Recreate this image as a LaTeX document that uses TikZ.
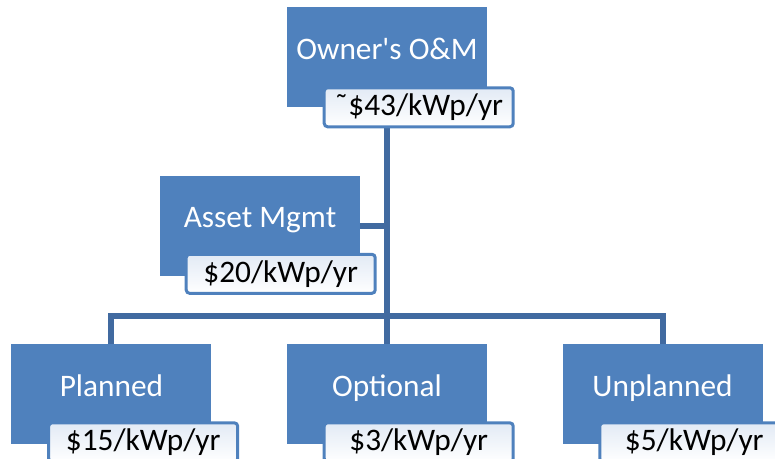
\documentclass[tikz,border=0pt]{standalone}
\usepackage{fontspec}
\setmainfont{Carlito}
\usepackage{tikz}
\usetikzlibrary{positioning,calc}
\definecolor{boxblue}{RGB}{79,129,189}
\definecolor{lineblue}{RGB}{65,106,160}
\definecolor{tagtop}{RGB}{226,234,245}

\begin{document}
\begin{tikzpicture}[
    node distance=51pt,
    box/.style={fill=boxblue,minimum width=150pt,inner sep=0pt,text height=39pt,
                text depth=36pt,text=white,font=\fontsize{23.5}{28}\selectfont},
    tag/.style={draw=boxblue,line width=2.25pt,rounded corners=2.5pt,top color=tagtop,
                bottom color=white,minimum width=141.75pt,inner sep=0pt,text height=21pt,
                text depth=8.25pt,font=\fontsize{23.5}{28}\selectfont,anchor=north west},
    conn/.style={draw=lineblue,line width=4.5pt}
  ]
    \clip (0,0) rectangle (581.25pt,-343.5pt);
    \useasboundingbox (0,0) rectangle (581.25pt,-343.5pt);
    % boxes
    \node[box] (owner) at (290.25pt,-42.75pt) {Owner\textquotesingle s O\&M};
    \node[box,below=of owner,xshift=-95.25pt] (asset) {Asset Mgmt};
    \node[box,below=of asset,xshift=95.25pt] (optional) {Optional};
    \node[box,left=56.25pt of optional] (planned) {Planned};
    \node[box,right=56.25pt of optional] (unplanned) {Unplanned};
    % connectors
    \coordinate (bus) at ([yshift=21pt]optional.north);
    \draw[conn] (owner.south) -- (bus);
    \draw[conn] (asset.east) -- (asset.east -| bus);
    \draw[conn] (planned.north) |- (bus) -| (unplanned.north);
    \draw[conn] (bus) -- (optional.north);
    % cost tags
    \node[tag] (ownertag) at ([shift={(27pt,15.75pt)}]owner.south west) {\char"02DC\$43/kWp/yr};
    \node[tag] (assettag) at ([shift={(18.75pt,17.25pt)}]asset.south west) {\$20/kWp/yr};
    \node[tag] (plannedtag) at ([shift={(27pt,17.25pt)}]planned.south west) {\$15/kWp/yr};
    \node[tag] (optionaltag) at ([shift={(27pt,17.25pt)}]optional.south west) {\$3/kWp/yr};
    \node[tag] (unplannedtag) at ([shift={(27pt,17.25pt)}]unplanned.south west) {\$5/kWp/yr};
  \end{tikzpicture}
\end{document}
